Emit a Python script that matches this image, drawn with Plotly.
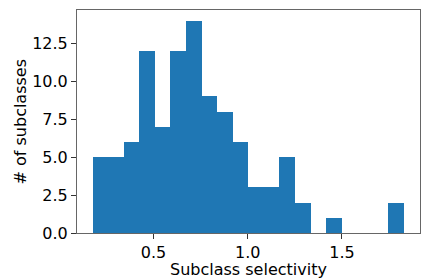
import plotly.graph_objects as go

# Histogram data
bin_start = 0.177
bin_width = 0.0826
counts = [5, 5, 6, 12, 7, 12, 14, 9, 8, 6, 3, 3, 5, 2, 0, 1, 0, 0, 0, 2]
x_ticks = [0.5, 1.0, 1.5]
y_ticks = [0.0, 2.5, 5.0, 7.5, 10.0, 12.5]

centers = [bin_start + (i + 0.5) * bin_width for i in range(len(counts))]

fig = go.Figure(go.Bar(
    x=centers, y=counts, width=[bin_width] * len(counts),
    marker=dict(color="#1f77b4", line=dict(width=0)),
))

font = dict(family="DejaVu Sans", size=16, color="black")
fig.update_layout(
    width=422, height=280,
    margin=dict(l=77, r=1.5, t=10, b=47, autoexpand=False),
    plot_bgcolor="white", paper_bgcolor="white",
    font=font, showlegend=False, bargap=0,
    xaxis=dict(
        range=[0.094, 1.914], tickvals=x_ticks, ticktext=[f"{v:.1f}" for v in x_ticks],
        ticks="outside", ticklen=5, tickcolor="#333", showgrid=False, zeroline=False,
        showline=True, linecolor="#666", linewidth=1, mirror=True, automargin=False,
    ),
    yaxis=dict(
        range=[0, 14.7], tickvals=y_ticks, ticktext=[f"{v:.1f}" for v in y_ticks],
        ticks="outside", ticklen=5, tickcolor="#333", showgrid=False, zeroline=False,
        showline=True, linecolor="#666", linewidth=1, mirror=True, automargin=False,
    ),
    annotations=[
        dict(text="Subclass selectivity", xref="paper", yref="paper", x=0.5, y=0,
             yshift=-36, yanchor="middle", showarrow=False, font=font),
        dict(text="# of subclasses", xref="paper", yref="paper", x=0, y=0.5,
             xshift=-57, xanchor="center", textangle=-90, showarrow=False, font=font),
    ],
)

fig.write_html("out.html", config={"displayModeBar": False},
               post_script="document.body.style.margin='0';")
